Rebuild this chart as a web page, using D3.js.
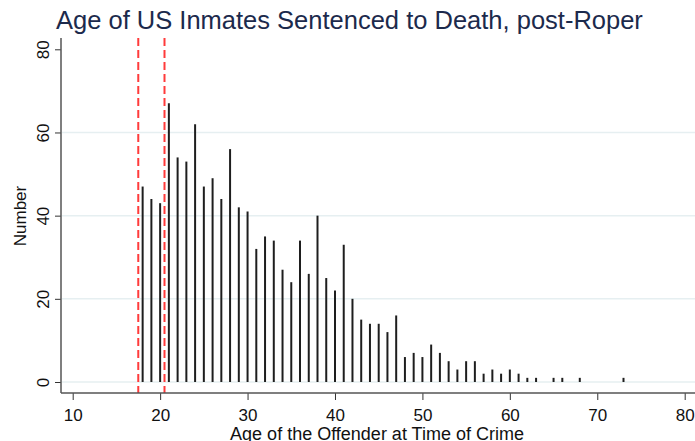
<!DOCTYPE html>
<html>
<head>
<meta charset="utf-8">
<script src="https://cdn.jsdelivr.net/npm/d3@7"></script>
<style>
  html, body { margin: 0; padding: 0; background: #fff; }
  svg { display: block; }
  text { font-family: Arial, "Liberation Sans", sans-serif; }
</style>
</head>
<body>
<svg id="chart" width="695" height="441"></svg>
<script>
// Age at time of crime and number of death sentences
const ages   = [18, 19, 20, 21, 22, 23, 24, 25, 26, 27, 28, 29, 30, 31, 32, 33, 34, 35, 36, 37, 38, 39, 40,
                41, 42, 43, 44, 45, 46, 47, 48, 49, 50, 51, 52, 53, 54, 55, 56, 57, 58, 59, 60,
                61, 62, 63, 65, 66, 68, 73];
const counts = [47, 44, 43, 67, 54, 53, 62, 47, 49, 44, 56, 42, 41, 32, 35, 34, 27, 24, 34, 26, 40, 25, 22,
                33, 20, 15, 14, 14, 12, 16, 6, 7, 6, 9, 7, 5, 3, 5, 5, 2, 3, 2, 3,
                2, 1, 1, 1, 1, 1, 1];
const xTicks = [10, 20, 30, 40, 50, 60, 70, 80];
const yTicks = [0, 20, 40, 60, 80];
const cutoffs = [17.5, 20.5];

const titleText = "Age of US Inmates Sentenced to Death, post-Roper";
const xTitle = "Age of the Offender at Time of Crime";
const yTitle = "Number";

const svg = d3.select("#chart");

const plotLeft = 61, plotRight = 695, plotTop = 38, plotBottom = 393;

const x = d3.scaleLinear().domain([10, 80]).range([72.7, 684.7]);
const y = d3.scaleLinear().domain([0, 80]).range([382, 49.3]);

// horizontal grid lines (not at the top of the axis)
svg.append("g")
  .selectAll("line")
  .data(yTicks.filter(t => t < 80))
  .join("line")
  .attr("x1", plotLeft + 1).attr("x2", plotRight)
  .attr("y1", d => y(d)).attr("y2", d => y(d))
  .attr("stroke", "#e6eff1").attr("stroke-width", 1.5);

// spikes
const data = ages.map((a, i) => ({ age: a, n: counts[i] }));
svg.append("g")
  .selectAll("line")
  .data(data)
  .join("line")
  .attr("x1", d => x(d.age)).attr("x2", d => x(d.age))
  .attr("y1", y(0)).attr("y2", d => y(d.n))
  .attr("stroke", "#1e1e1e").attr("stroke-width", 2);

// reference lines
svg.append("g")
  .selectAll("line")
  .data(cutoffs)
  .join("line")
  .attr("x1", d => x(d)).attr("x2", d => x(d))
  .attr("y1", plotTop).attr("y2", plotBottom)
  .attr("stroke", "#ff3b3b").attr("stroke-width", 2)
  .attr("stroke-dasharray", "8,4");

// y axis
const yAxis = svg.append("g")
  .attr("transform", `translate(${plotLeft},0)`)
  .call(d3.axisLeft(y).tickValues(yTicks).tickSize(6).tickFormat(d3.format("d")));
yAxis.select(".domain").remove();
yAxis.selectAll(".tick line").attr("stroke", "#333");
yAxis.selectAll(".tick text")
  .attr("font-size", 17).attr("fill", "#111")
  .attr("x", 0).attr("dy", 0)
  .attr("text-anchor", "middle")
  .attr("transform", "translate(-12,0) rotate(-90)");
svg.append("line")
  .attr("x1", plotLeft).attr("x2", plotLeft)
  .attr("y1", plotTop).attr("y2", plotBottom)
  .attr("stroke", "#555").attr("stroke-width", 1.5);

// x axis
const xAxis = svg.append("g")
  .attr("transform", `translate(0,${plotBottom})`)
  .call(d3.axisBottom(x).tickValues(xTicks).tickSize(7).tickFormat(d3.format("d")));
xAxis.select(".domain").remove();
xAxis.selectAll(".tick line").attr("stroke", "#333");
xAxis.selectAll(".tick text")
  .attr("font-size", 17).attr("fill", "#111")
  .attr("y", 16).attr("dy", "0.71em");
svg.append("line")
  .attr("x1", plotLeft).attr("x2", plotRight)
  .attr("y1", plotBottom).attr("y2", plotBottom)
  .attr("stroke", "#555").attr("stroke-width", 1.5);

// titles
svg.append("text")
  .attr("x", 56).attr("y", 29)
  .attr("font-size", 25.5).attr("fill", "#1c2a4c")
  .text(titleText);

svg.append("text")
  .attr("x", 377).attr("y", 440)
  .attr("text-anchor", "middle")
  .attr("font-size", 18).attr("fill", "#111")
  .text(xTitle);

svg.append("text")
  .attr("transform", "translate(26,216) rotate(-90)")
  .attr("text-anchor", "middle")
  .attr("font-size", 17).attr("fill", "#111")
  .text(yTitle);
</script>
</body>
</html>
